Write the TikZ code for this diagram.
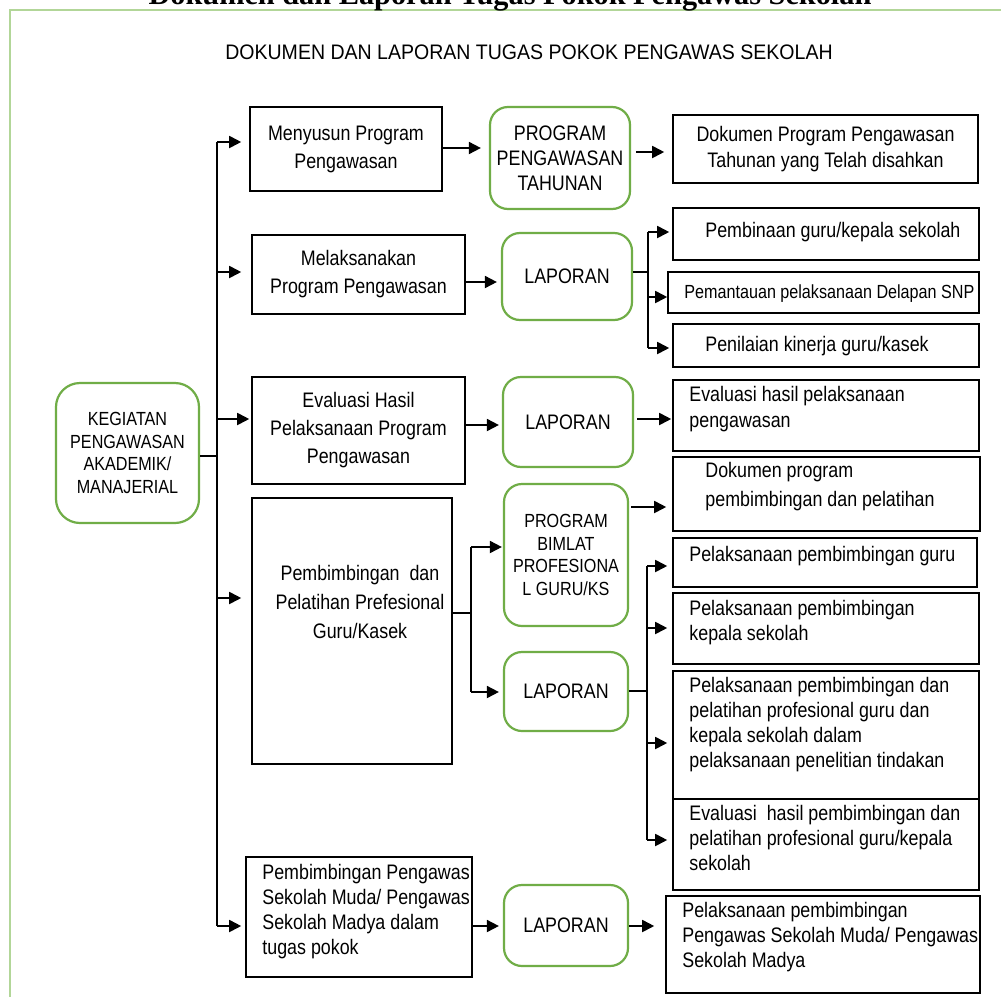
\documentclass[tikz,border=0pt]{standalone}
\usepackage{fontspec}
\setmainfont[FakeStretch=0.85]{Liberation Sans}
\newfontfamily\headfont[FakeStretch=0.93]{Liberation Sans}
\newfontfamily\titlefont{Liberation Serif}
\usetikzlibrary{arrows.meta}
\definecolor{boxgreen}{RGB}{112,173,71}
\definecolor{framegreen}{RGB}{178,214,152}

\begin{document}
\begin{tikzpicture}[x=1pt,y=-1pt,
  plain/.style={draw=black, line width=1.6pt, align=center, inner sep=0pt,
                font=\fontsize{21}{28}\selectfont},
  soft/.style={draw=boxgreen, line width=2.2pt, rounded corners=18pt, align=center,
               inner sep=0pt, font=\fontsize{21}{25}\selectfont},
  caps/.style={font=\fontsize{19}{22.5}\selectfont},
  txt/.style={align=left, inner sep=0pt, anchor=west, font=\fontsize{21}{26}\selectfont},
  arr/.style={draw, line width=1.8pt, -{Triangle[length=12pt,width=12pt]}},
  wire/.style={draw, line width=1.8pt},
]
% page area
\fill[white] (0,0) rectangle (1001,996);
\clip (0,0) rectangle (1001,996);

% outer frame and headings
\draw[framegreen, line width=2.5pt] (10,1010) -- (10,10) -- (1010,10);
\node[font=\titlefont\bfseries\fontsize{30.3}{31}\selectfont, anchor=base, inner sep=0pt]
  (title) at (510,4) {Dokumen dan Laporan Tugas Pokok Pengawas Sekolah};
\node[font=\headfont\fontsize{21}{24}\selectfont, anchor=base, inner sep=0pt]
  (head) at (529,59) {DOKUMEN DAN LAPORAN TUGAS POKOK PENGAWAS SEKOLAH};

% root
\node[soft, caps, rounded corners=24pt, minimum width=143pt, minimum height=140pt]
  (kegiatan) at (127.5,453) {KEGIATAN\\PENGAWASAN\\AKADEMIK/\\MANAJERIAL};

% left column of activities
\node[plain, minimum width=192pt, minimum height=84pt] (menyusun) at (346,149)
  {Menyusun Program\\Pengawasan};
\node[plain, minimum width=213pt, minimum height=79pt] (melak) at (358.5,274.5)
  {Melaksanakan\\Program Pengawasan};
\node[plain, minimum width=213pt, minimum height=107pt] (eval) at (358.5,430.5)
  {Evaluasi Hasil\\Pelaksanaan Program\\Pengawasan};
\node[plain, minimum width=200pt, minimum height=266pt] (pbox) at (352,631) {};
\node[txt, anchor=center, align=center, font=\fontsize{21}{29}\selectfont] (pbox-t) at (360,601.5)
  {Pembimbingan\ \ dan\\Pelatihan Prefesional\\Guru/Kasek};
\node[plain, minimum width=226pt, minimum height=120pt] (pengawas) at (359,917) {};
\node[txt, font=\fontsize{21}{25}\selectfont, xshift=17pt, yshift=5pt] (pengawas-t) at (pengawas.west)
  {Pembimbingan Pengawas\\Sekolah Muda/ Pengawas\\Sekolah Madya dalam\\tugas pokok};

% middle column: programmes and reports
\node[soft, minimum width=140pt, minimum height=102pt] (ppt) at (560,158)
  {PROGRAM\\PENGAWASAN\\TAHUNAN};
\node[soft, minimum width=130pt, minimum height=87pt] (lap1) at (567,276.5) {LAPORAN};
\node[soft, minimum width=130pt, minimum height=90pt] (lap2) at (568,422) {LAPORAN};
\node[soft, caps, minimum width=124pt, minimum height=142pt] (bimlat) at (566,555)
  {PROGRAM\\BIMLAT\\PROFESIONA\\L GURU/KS};
\node[soft, minimum width=124pt, minimum height=79pt] (lap3) at (566,691.5) {LAPORAN};
\node[soft, minimum width=124pt, minimum height=81pt] (lap4) at (566,925.5) {LAPORAN};

% right column: documents
\node[plain, font=\fontsize{21}{26}\selectfont, minimum width=305pt, minimum height=68pt]
  (dok1) at (825.5,149) {Dokumen Program Pengawasan\\Tahunan yang Telah disahkan};

\node[plain, minimum width=306pt, minimum height=52pt] (pembinaan) at (826,234) {};
\node[txt, xshift=33pt, yshift=2pt] (pembinaan-t) at (pembinaan.west) {Pembinaan guru/kepala sekolah};
\node[plain, minimum width=311pt, minimum height=41pt] (pemantauan) at (823.5,292.5) {};
\node[txt, font=\fontsize{19}{22}\selectfont, xshift=17pt, yshift=-1pt] (pemantauan-t) at (pemantauan.west)
  {Pemantauan pelaksanaan Delapan SNP};
\node[plain, minimum width=306pt, minimum height=43pt] (penilaian) at (826,345.5) {};
\node[txt, xshift=33pt, yshift=-1pt] (penilaian-t) at (penilaian.west) {Penilaian kinerja guru/kasek};

\node[plain, minimum width=306pt, minimum height=71pt] (evalhasil) at (826,415.5) {};
\node[txt, xshift=17pt, yshift=6pt] (evalhasil-t) at (evalhasil.west)
  {Evaluasi hasil pelaksanaan\\pengawasan};

\node[plain, minimum width=307pt, minimum height=74pt] (dokprog) at (826.5,494) {};
\node[txt, font=\fontsize{21}{29}\selectfont, xshift=33pt, yshift=7pt] (dokprog-t) at (dokprog.west)
  {Dokumen program\\pembimbingan dan pelatihan};

\node[plain, minimum width=304pt, minimum height=49pt] (pguru) at (825,562.5) {};
\node[txt, xshift=17pt, yshift=6pt] (pguru-t) at (pguru.west) {Pelaksanaan pembimbingan guru};
\node[plain, minimum width=306pt, minimum height=71pt] (pkepala) at (826,628.5) {};
\node[txt, font=\fontsize{21}{24.5}\selectfont, xshift=17pt, yshift=6pt] (pkepala-t) at (pkepala.west)
  {Pelaksanaan pembimbingan\\kepala sekolah};
\node[plain, minimum width=306pt, minimum height=128pt] (ppel) at (826,735) {};
\node[txt, font=\fontsize{21}{25}\selectfont, xshift=17pt, yshift=10pt] (ppel-t) at (ppel.west)
  {Pelaksanaan pembimbingan dan\\pelatihan profesional guru dan\\kepala sekolah dalam\\pelaksanaan penelitian tindakan};
\node[plain, minimum width=306pt, minimum height=91pt] (evpel) at (826,844.5) {};
\node[txt, font=\fontsize{21}{25}\selectfont, xshift=17pt, yshift=7pt] (evpel-t) at (evpel.west)
  {Evaluasi\ \ hasil pembimbingan dan\\pelatihan profesional guru/kepala\\sekolah};

\node[plain, minimum width=314pt, minimum height=97pt] (pelpeng) at (823,944.5) {};
\node[txt, font=\fontsize{21}{25}\selectfont, xshift=17pt, yshift=7pt] (pelpeng-t) at (pelpeng.west)
  {Pelaksanaan pembimbingan\\Pengawas Sekolah Muda/ Pengawas\\Sekolah Madya};

% main trunk from the root
\coordinate (hub) at (217,456);
\coordinate (trunkTop) at (217,142);
\coordinate (trunkBot) at (217,926);
\coordinate (t2) at (217,272);
\coordinate (t3) at (217,419);
\coordinate (t4) at (217,598);
\draw[wire] (kegiatan.east |- hub) -- (hub);
\draw[wire] (trunkTop) -- (trunkBot);
\draw[arr, shorten >=8pt] (trunkTop) -- (trunkTop -| menyusun.west);
\draw[arr, shorten >=10pt] (t2) -- (t2 -| melak.west);
\draw[arr, shorten >=2pt] (t3) -- (t3 -| eval.west);
\draw[arr, shorten >=10pt] (t4) -- (t4 -| pbox.west);
\draw[arr, shorten >=4pt] (trunkBot) -- (trunkBot -| pengawas.west);

% row 1
\draw[arr, shorten >=8pt] (menyusun.east |- 0,148) -- (ppt.west |- 0,148);
\draw[arr, shorten <=5pt, shorten >=8pt] (ppt.east |- 0,152) -- (dok1.west |- 0,152);

% row 2
\draw[arr, shorten >=4pt] (melak.east |- 0,282) -- (lap1.west |- 0,282);
\coordinate (b1) at (648,272);
\coordinate (b1t) at (648,232);
\coordinate (b1m) at (648,297);
\coordinate (b1b) at (648,348);
\draw[wire] (lap1.east |- b1) -- (b1);
\draw[wire] (b1t) -- (b1b);
\draw[arr, shorten >=3pt] (b1t) -- (b1t -| pembinaan.west);
\draw[arr] (b1m) -- (b1m -| pemantauan.west);
\draw[arr, shorten >=3pt] (b1b) -- (b1b -| penilaian.west);

% row 3
\draw[arr, shorten >=3pt] (eval.east |- 0,425) -- (lap2.west |- 0,425);
\draw[arr, shorten <=3pt, shorten >=1pt] (lap2.east |- 0,419) -- (evalhasil.west |- 0,419);

% row 4
\coordinate (b2) at (471,613);
\coordinate (b2t) at (471,547);
\coordinate (b2b) at (471,692);
\draw[wire] (pbox.east |- b2) -- (b2);
\draw[wire] (b2t) -- (b2b);
\draw[arr, shorten >=1pt] (b2t) -- (b2t -| bimlat.west);
\draw[arr, shorten >=4pt] (b2b) -- (b2b -| lap3.west);
\draw[arr, shorten <=2pt, shorten >=6pt] (bimlat.east |- 0,507) -- (dokprog.west |- 0,507);
\coordinate (b3) at (647,691);
\coordinate (b3a) at (647,566);
\coordinate (b3b) at (647,628);
\coordinate (b3c) at (647,743);
\coordinate (b3d) at (647,840);
\draw[wire] (lap3.east |- b3) -- (b3);
\draw[wire] (b3a) -- (b3d);
\draw[arr, shorten >=5pt] (b3a) -- (b3a -| pguru.west);
\draw[arr, shorten >=5pt] (b3b) -- (b3b -| pkepala.west);
\draw[arr, shorten >=5pt] (b3c) -- (b3c -| ppel.west);
\draw[arr, shorten >=5pt] (b3d) -- (b3d -| evpel.west);

% row 5
\draw[arr, shorten >=4pt] (pengawas.east |- 0,926) -- (lap4.west |- 0,926);
\draw[arr, shorten >=11pt] (lap4.east |- 0,926) -- (pelpeng.west |- 0,926);
\end{tikzpicture}
\end{document}
